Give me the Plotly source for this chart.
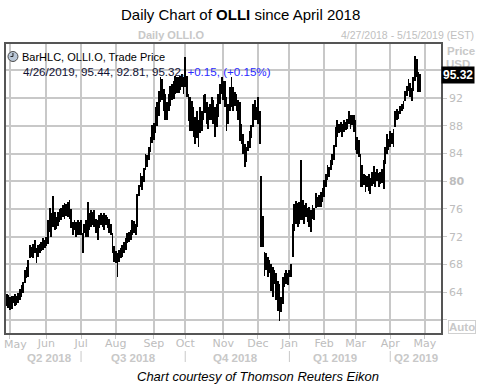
import plotly.graph_objects as go

# ---- data (trading-day index 0 = 4/27/2018, last bar 250 = 4/26/2019) ----
high = [
    63.8, 63.6, 63.3, 63.5, 63.5, 63.8, 63.5, 63.9, 64.4, 65.0,
    65.5, 67.2, 67.6, 68.6, 70.8, 70.5, 71.0, 71.5, 70.3, 70.8,
    71.0, 71.3, 71.8, 71.5, 72.0, 74.4, 76.1, 75.4, 77.8, 75.6,
    74.8, 75.5, 76.0, 76.2, 76.5, 76.9, 76.7, 77.0, 77.3, 76.0,
    74.1, 74.4, 74.1, 74.4, 74.1, 74.4, 72.6, 73.9, 74.4, 77.0,
    75.4, 75.8, 75.6, 75.8, 74.6, 74.4, 75.1, 75.4, 75.1, 75.4,
    75.1, 74.9, 74.6, 73.9, 72.5, 70.6, 69.9, 69.6, 70.1, 70.3,
    70.8, 71.3, 71.8, 72.5, 72.7, 73.0, 74.4, 74.2, 73.9, 78.2,
    79.4, 81.2, 80.7, 81.9, 84.0, 83.8, 85.0, 86.4, 88.1, 88.4,
    90.7, 91.4, 93.0, 95.0, 94.8, 93.3, 92.6, 91.4, 92.6, 93.8,
    94.0, 94.5, 95.2, 95.0, 95.0, 95.2, 95.5, 95.0, 97.9, 95.2,
    92.6, 92.1, 91.6, 90.7, 89.3, 90.2, 88.8, 90.7, 90.2, 92.4,
    92.6, 91.4, 90.7, 91.2, 92.1, 91.7, 90.7, 91.2, 92.6, 94.0,
    95.0, 94.5, 94.5, 92.1, 91.2, 93.6, 95.0, 93.6, 92.9, 92.6,
    91.7, 91.4, 88.2, 86.8, 85.4, 84.9, 85.8, 87.2, 88.1, 91.2,
    91.7, 90.7, 92.1, 90.2, 80.8, 75.0, 69.8, 69.6, 69.1, 68.6,
    68.1, 67.6, 67.2, 66.7, 65.6, 65.2, 63.3, 66.2, 66.7, 67.2,
    66.7, 67.2, 68.1, 73.8, 76.7, 77.2, 76.8, 77.0, 83.1, 77.3,
    76.5, 76.8, 76.1, 76.3, 75.8, 76.5, 76.1, 78.3, 77.7, 78.0,
    78.5, 79.0, 80.2, 81.1, 82.3, 82.1, 83.1, 84.0, 85.2, 87.8,
    88.8, 88.3, 88.6, 88.3, 88.8, 88.6, 89.0, 90.2, 89.5, 89.5,
    89.5, 88.8, 86.4, 85.9, 84.0, 82.3, 81.1, 80.9, 80.8, 81.0,
    80.5, 81.4, 82.2, 81.4, 81.7, 81.2, 81.4, 81.7, 83.0, 84.9,
    86.8, 86.1, 87.3, 87.0, 87.5, 90.2, 90.4, 90.2, 90.9, 91.1,
    91.6, 93.0, 93.8, 94.7, 94.2, 93.5, 95.0, 98.1, 97.6, 95.7,
    95.44,
]
low = [
    62.0, 61.7, 61.4, 61.6, 62.4, 62.0, 62.1, 62.5, 62.8, 63.3,
    63.9, 65.3, 66.0, 66.2, 68.9, 69.1, 68.9, 69.6, 68.2, 69.1,
    69.6, 69.9, 70.1, 70.3, 70.6, 71.0, 72.7, 72.0, 73.4, 72.9,
    73.1, 73.6, 74.1, 74.4, 74.8, 74.5, 75.0, 74.8, 74.5, 73.3,
    72.2, 73.0, 72.0, 72.2, 72.2, 72.3, 69.6, 72.5, 72.0, 72.0,
    73.0, 73.4, 73.7, 73.4, 72.5, 71.5, 73.2, 73.7, 73.4, 73.0,
    73.7, 73.2, 72.5, 72.3, 69.6, 68.4, 68.2, 66.2, 68.4, 68.9,
    69.1, 69.6, 70.1, 71.1, 71.3, 71.5, 72.3, 72.5, 72.3, 73.4,
    77.8, 79.2, 78.7, 79.9, 81.6, 82.1, 83.1, 84.2, 85.5, 86.0,
    87.0, 88.0, 89.4, 91.4, 91.7, 90.1, 88.8, 88.8, 90.1, 90.9,
    91.7, 91.9, 92.6, 92.8, 92.8, 93.1, 93.6, 92.6, 93.6, 92.1,
    88.7, 87.3, 87.3, 86.4, 85.4, 86.2, 85.0, 86.9, 87.3, 88.8,
    89.8, 88.3, 87.6, 88.8, 88.8, 88.3, 86.4, 87.8, 89.3, 91.2,
    92.6, 91.7, 90.7, 87.2, 88.3, 90.1, 90.7, 90.1, 90.9, 90.1,
    88.8, 85.8, 85.4, 83.9, 82.1, 82.8, 84.3, 84.8, 86.2, 87.8,
    88.8, 88.8, 88.3, 85.4, 70.5, 70.5, 66.3, 67.2, 66.2, 66.7,
    64.2, 63.3, 65.2, 62.8, 61.3, 59.8, 61.1, 62.3, 64.7, 65.2,
    65.0, 66.2, 66.2, 69.0, 72.8, 73.8, 73.4, 73.9, 74.4, 74.4,
    73.9, 74.9, 74.1, 73.4, 72.7, 74.6, 74.4, 76.1, 76.3, 76.3,
    76.3, 77.0, 77.7, 79.2, 80.2, 80.6, 81.6, 82.3, 83.1, 85.0,
    86.4, 86.9, 87.1, 86.4, 87.1, 87.4, 87.6, 88.3, 87.6, 88.1,
    87.1, 84.5, 84.0, 83.5, 79.2, 79.2, 79.5, 78.5, 79.1, 78.6,
    78.1, 79.3, 79.6, 79.1, 80.0, 79.1, 79.6, 79.8, 78.9, 82.5,
    84.0, 84.5, 84.9, 85.4, 84.9, 87.8, 88.8, 89.0, 89.7, 90.2,
    90.4, 91.6, 92.3, 93.0, 92.1, 91.6, 93.0, 94.5, 95.0, 92.9,
    92.81,
]
last_date = "4/26/2019"
last_high, last_low, last_close = 95.44, 92.81, 95.32
change, change_pct = 0.15, 0.15

month_idx = [2, 24, 45, 66, 89, 108, 131, 152, 171, 192, 211, 232, 253]
month_lbl = ["May", "Jun", "Jul", "Aug", "Sep", "Oct", "Nov", "Dec",
             "Jan", "Feb", "Mar", "Apr", "May"]
quarter_lbl = ["Q2 2018", "Q3 2018", "Q4 2018", "Q1 2019", "Q2 2019"]
quarter_mid = [26.0, 76.7, 138.7, 198.3, 247.6]
quarter_start = [45, 108, 171, 232]
price_ticks = [60, 64, 68, 72, 76, 80, 84, 88, 92, 96]
price_text = ["", "64", "68", "72", "76", "<b>80</b>", "84", "88", "92", ""]

# ---- geometry helpers (pixels -> paper) ----
W, H = 484, 384
L, R, T, B = 4, 43, 44, 51
PW, PH = W - L - R, H - T - B


def px(x):
    return (x - L) / PW


def py(y):
    return (H - B - y) / PH


GRAY = "#c8c8c8"
LAB = "#bdbdbd"
TXT = "Liberation Sans"
TAH = "DejaVu Sans"

idx = list(range(len(high)))
fig = go.Figure()
fig.add_trace(go.Bar(
    x=idx, base=low, y=[h - l for h, l in zip(high, low)],
    width=0.5, marker=dict(color="black", line=dict(width=0)),
    hoverinfo="skip", showlegend=False,
))

tick_text = [""] + month_lbl[1:]
fig.update_layout(
    width=W, height=H, margin=dict(l=L, r=R, t=T, b=B),
    paper_bgcolor="white", plot_bgcolor="white", showlegend=False,
    bargap=0,
    xaxis=dict(range=[-0.4, 262.7], tickmode="array", tickvals=month_idx,
               ticktext=tick_text, showgrid=True, gridcolor=GRAY, gridwidth=1.5,
               ticks="outside", ticklen=4, tickcolor=GRAY,
               ticklabelstandoff=-5,
               tickfont=dict(family=TAH, size=11, color=LAB),
               showline=True, linecolor="#555555", linewidth=1.5, mirror=True,
               zeroline=False, fixedrange=True),
    yaxis=dict(range=[58.1, 99.8], side="right", tickmode="array",
               tickvals=price_ticks, ticktext=price_text, showgrid=True,
               gridcolor=GRAY, gridwidth=1.5, ticks="outside", ticklen=4,
               tickcolor=GRAY,
               tickfont=dict(family=TAH, size=11, color=LAB),
               showline=True, linecolor="#555555", linewidth=1.5, mirror=True,
               zeroline=False, fixedrange=True),
)

ann = []
ann.append(dict(text="Daily Chart of <b>OLLI</b> since April 2018",
                x=px(240), y=py(14.5), xanchor="center", yanchor="middle",
                font=dict(family=TXT, size=15, color="black")))
ann.append(dict(text="<b>Daily OLLI.O</b>", x=px(170), y=py(35),
                xanchor="center", yanchor="middle",
                font=dict(family=TXT, size=11, color="#c8c8c8")))
ann.append(dict(text="4/27/2018 - 5/15/2019 (EST)", x=px(476), y=py(35),
                xanchor="right", yanchor="middle",
                font=dict(family=TXT, size=10.5, color="#c0c0c0")))
ann.append(dict(text="BarHLC, OLLI.O, Trade Price", x=px(18), y=py(56.5),
                xanchor="left", yanchor="middle",
                font=dict(family=TXT, size=11, color="black")))
line2 = (f"{last_date}, {last_high:.2f}, {last_low:.2f}, {last_close:.2f}, "
         f"<span style='color:#2a2aff'>+{change:.2f}, (+{change_pct:.2f}%)</span>")
ann.append(dict(text=line2, x=px(19), y=py(71.5), xanchor="left",
                yanchor="middle",
                font=dict(family=TXT, size=11.6, color="#111133")))
ann.append(dict(text="<b>Price</b>", x=px(461), y=py(51.5), xanchor="center",
                yanchor="middle",
                font=dict(family=TXT, size=11.5, color="#c8c8c8")))
ann.append(dict(text="<b>USD</b>", x=px(458), y=py(64), xanchor="center",
                yanchor="middle",
                font=dict(family=TXT, size=11.5, color="#c8c8c8")))
ann.append(dict(text=f"<b>{last_close:.2f}</b>", x=px(441.5),
                y=last_close, yref="y", xanchor="left", yanchor="middle",
                bgcolor="black", borderpad=1,
                font=dict(family=TXT, size=12, color="white")))
ann.append(dict(text="<b>Auto</b>", x=px(462.5), y=py(327), xanchor="center",
                yanchor="middle", bordercolor="#d0d0d0", borderwidth=1,
                borderpad=0,
                font=dict(family=TXT, size=11.5, color="#c8c8c8")))
ann.append(dict(text="May", x=px(13.5), y=py(344), xanchor="center",
                yanchor="middle", font=dict(family=TAH, size=11, color=LAB)))
for q, m in zip(quarter_lbl, quarter_mid):
    ann.append(dict(text=f"<b>{q}</b>", x=m, xref="x", y=py(357.5),
                    xanchor="center", yanchor="middle",
                    font=dict(family=TXT, size=11.5, color="#c8c8c8")))
ann.append(dict(text="<i>Chart courtesy of Thomson Reuters Eikon</i>",
                x=px(257), y=py(376), xanchor="center", yanchor="middle",
                font=dict(family=TXT, size=13, color="black")))
for a in ann:
    a.setdefault("xref", "paper")
    a.setdefault("yref", "paper")
    a["showarrow"] = False
fig.update_layout(annotations=ann)

shapes = []
for q in quarter_start:
    shapes.append(dict(type="line", xref="x", yref="paper", x0=q, x1=q,
                       y0=py(351), y1=py(362),
                       line=dict(color="#c8c8c8", width=1)))
# clock icon of the legend
shapes.append(dict(type="circle", xref="paper", yref="paper",
                   x0=px(6), x1=px(16), y0=py(61.5), y1=py(51.5),
                   fillcolor="#b9c6d6", line=dict(color="#4a4a4a", width=1)))
shapes.append(dict(type="line", xref="paper", yref="paper",
                   x0=px(11), x1=px(11), y0=py(56.5), y1=py(53),
                   line=dict(color="#222222", width=1)))
shapes.append(dict(type="line", xref="paper", yref="paper",
                   x0=px(11), x1=px(8.5), y0=py(56.5), y1=py(56.5),
                   line=dict(color="#222222", width=1)))
fig.update_layout(shapes=shapes)

fig.write_html("out.html", config={"displayModeBar": False},
               post_script="document.body.style.margin='0';")
